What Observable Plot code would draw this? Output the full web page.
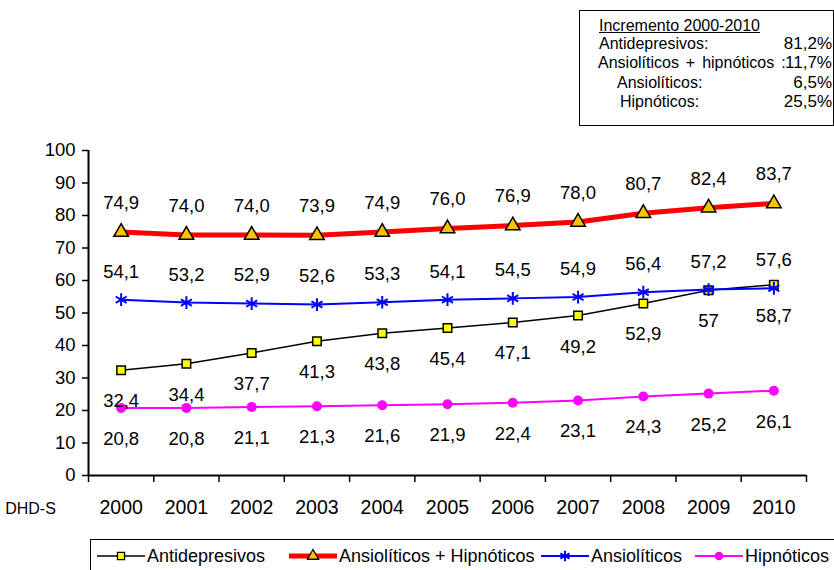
<!DOCTYPE html>
<html>
<head>
<meta charset="utf-8">
<script src="https://cdn.jsdelivr.net/npm/d3@7"></script>
<script src="https://cdn.jsdelivr.net/npm/@observablehq/plot@0.6"></script>
<style>
  html, body { margin: 0; padding: 0; background: #fff; overflow: hidden; }
  body { width: 834px; height: 570px; position: relative; font-family: Arial, "Liberation Sans", Helvetica, sans-serif; color: #000; }
  #chart { position: absolute; left: 0; top: 0; }
  #incr { position: absolute; left: 579px; top: 10px; width: 253px; height: 114px; border: 1px solid #000; font-size: 16px; }
  #incr .row { position: absolute; left: 0; right: 0; height: 19px; line-height: 19px; }
  #incr .lab { position: absolute; white-space: nowrap; }
  #incr .val { position: absolute; right: 1px; white-space: nowrap; }
  #legend { position: absolute; left: 90px; top: 539px; width: 760px; height: 40px; border: 1px solid #000; font-size: 18px; }
  #legend .item { position: absolute; top: 5px; height: 22px; line-height: 22px; white-space: nowrap; display: flex; align-items: center; }
  #legend svg { display: block; margin-right: 2px; }
</style>
</head>
<body>
<div id="chart"></div>
<div id="incr"></div>
<div id="legend"></div>
<script>
const years = [2000, 2001, 2002, 2003, 2004, 2005, 2006, 2007, 2008, 2009, 2010];
const antidepresivos = [32.4, 34.4, 37.7, 41.3, 43.8, 45.4, 47.1, 49.2, 52.9, 57, 58.7];
const ansioHipno = [74.9, 74.0, 74.0, 73.9, 74.9, 76.0, 76.9, 78.0, 80.7, 82.4, 83.7];
const ansioliticos = [54.1, 53.2, 52.9, 52.6, 53.3, 54.1, 54.5, 54.9, 56.4, 57.2, 57.6];
const hipnoticos = [20.8, 20.8, 21.1, 21.3, 21.6, 21.9, 22.4, 23.1, 24.3, 25.2, 26.1];
const yTicks = [0, 10, 20, 30, 40, 50, 60, 70, 80, 90, 100];
const legendNames = ["Antidepresivos", "Ansiolíticos + Hipnóticos", "Ansiolíticos", "Hipnóticos"];
const incrTitle = "Incremento 2000-2010";
const incrLabels = ["Antidepresivos:", "Ansiolíticos + hipnóticos :", "Ansiolíticos:", "Hipnóticos:"];
const incrValues = ["81,2%", "11,7%", "6,5%", "25,5%"];
const xAxisLabel = "DHD-S";

const fmtGeneral = v => String(v).replace(".", ",");
const fmtFixed = v => v.toFixed(1).replace(".", ",");
const mk = (vals, fmt) => years.map((year, i) => ({year, v: vals[i], label: fmt(vals[i])}));
const dAnti = mk(antidepresivos, fmtGeneral);
const dAH = mk(ansioHipno, fmtFixed);
const dAnsio = mk(ansioliticos, fmtFixed);
const dHip = mk(hipnoticos, fmtFixed);
const boundaries = [years[0] - 0.5, ...years.map(y => y + 0.5)];

const FS = 18;
const chart = Plot.plot({
  width: 834,
  height: 570,
  marginTop: 150,
  marginBottom: 95,
  marginLeft: 88,
  marginRight: 28,
  x: {domain: [boundaries[0], boundaries[boundaries.length - 1]]},
  y: {domain: [0, 100]},
  style: {fontFamily: 'Arial, "Liberation Sans", sans-serif', fontSize: FS + "px", color: "#000", background: "transparent"},
  marks: [
    Plot.axisY({ticks: yTicks, tickSize: 6, tickPadding: 7, tickFormat: d => String(d), label: null, fontSize: 18.5, strokeWidth: 1.5}),
    Plot.axisX({ticks: boundaries, tickSize: 7, tickFormat: () => "", label: null, strokeWidth: 1.5}),
    Plot.axisX({ticks: years, tickSize: 0, tickPadding: 25, tickFormat: d => String(d), label: null, fontSize: 19.5}),
    Plot.ruleX([boundaries[0]], {y1: 0, y2: 100, stroke: "#000", strokeWidth: 2}),
    Plot.ruleY([0], {stroke: "#000", strokeWidth: 2}),
    Plot.text([xAxisLabel], {frameAnchor: "bottom-left", dx: -58, dy: 38, fontSize: 16, textAnchor: "middle"}),

    Plot.line(dHip, {x: "year", y: "v", stroke: "#ff00ff", strokeWidth: 2}),
    Plot.dot(dHip, {x: "year", y: "v", r: 5, fill: "#ff00ff", stroke: "none", symbol: "circle"}),

    Plot.line(dAnti, {x: "year", y: "v", stroke: "#000", strokeWidth: 1.5}),
    Plot.dot(dAnti, {x: "year", y: "v", r: 4.8, fill: "#ffff00", stroke: "#000", strokeWidth: 1.5, symbol: "square"}),

    Plot.line(dAnsio, {x: "year", y: "v", stroke: "#0000ff", strokeWidth: 2}),
    Plot.dot(dAnsio, {x: "year", y: "v", r: 6, stroke: "#0000ff", strokeWidth: 2, symbol: "asterisk"}),

    Plot.line(dAH, {x: "year", y: "v", stroke: "#ff0000", strokeWidth: 5}),
    Plot.dot(dAH, {x: "year", y: "v", r: 5.4, fill: "#ffc000", stroke: "#000", strokeWidth: 1.5, symbol: "triangle"}),

    Plot.text(dAH, {x: "year", y: "v", text: "label", dy: -29, fontSize: 18.5}),
    Plot.text(dAnsio, {x: "year", y: "v", text: "label", dy: -28, fontSize: 18.5}),
    Plot.text(dAnti, {x: "year", y: "v", text: "label", dy: 31, fontSize: 18.5}),
    Plot.text(dHip, {x: "year", y: "v", text: "label", dy: 31, fontSize: 18.5})
  ]
});
document.getElementById("chart").appendChild(chart);

// Incremento box
const incr = document.getElementById("incr");
{
  const r = document.createElement("div");
  r.className = "row"; r.style.top = "5px";
  const l = document.createElement("span");
  l.className = "lab"; l.style.left = "19px"; l.style.textDecoration = "underline";
  l.textContent = incrTitle; r.appendChild(l); incr.appendChild(r);
}
const incrLeft = [19, 18, 37, 40];
incrLabels.forEach((lab, i) => {
  const r = document.createElement("div");
  r.className = "row"; r.style.top = (23 + i * 19.3) + "px";
  const l = document.createElement("span");
  l.className = "lab"; l.style.left = incrLeft[i] + "px"; l.textContent = lab;
  if (i === 1) { l.style.wordSpacing = "2.5px"; }
  const v = document.createElement("span");
  v.className = "val"; v.textContent = incrValues[i];
  v.style.fontSize = "17px";
  r.appendChild(l); r.appendChild(v); incr.appendChild(r);
});

// Legend
const legend = document.getElementById("legend");
const swatch = [
  {stroke: "#000", sw: 1.5, sym: "square", fill: "#ffff00", mstroke: "#000"},
  {stroke: "#ff0000", sw: 5, sym: "triangle", fill: "#ffc000", mstroke: "#000"},
  {stroke: "#0000ff", sw: 2, sym: "asterisk", fill: "none", mstroke: "#0000ff"},
  {stroke: "#ff00ff", sw: 2, sym: "circle", fill: "#ff00ff", mstroke: "none"}
];
const legLeft = [6, 198, 450, 604];
legendNames.forEach((name, i) => {
  const s = swatch[i];
  const item = document.createElement("div");
  item.className = "item"; item.style.left = legLeft[i] + "px";
  const ns = "http://www.w3.org/2000/svg";
  const svg = document.createElementNS(ns, "svg");
  svg.setAttribute("width", 48); svg.setAttribute("height", 16);
  const ln = document.createElementNS(ns, "line");
  ln.setAttribute("x1", 0); ln.setAttribute("x2", 48); ln.setAttribute("y1", 8); ln.setAttribute("y2", 8);
  ln.setAttribute("stroke", s.stroke); ln.setAttribute("stroke-width", s.sw);
  svg.appendChild(ln);
  const p = document.createElementNS(ns, "path");
  const symMap = {square: d3.symbolSquare, triangle: d3.symbolTriangle, asterisk: d3.symbolAsterisk, circle: d3.symbolCircle};
  const size = {square: 50, triangle: 55, asterisk: 80, circle: 60}[s.sym];
  p.setAttribute("d", d3.symbol(symMap[s.sym], size)());
  p.setAttribute("transform", "translate(24,8)");
  p.setAttribute("fill", s.fill); p.setAttribute("stroke", s.mstroke);
  p.setAttribute("stroke-width", s.sym === "asterisk" ? 2 : 1.3);
  svg.appendChild(p);
  const t = document.createElement("span");
  t.textContent = name;
  item.appendChild(svg); item.appendChild(t);
  legend.appendChild(item);
});
</script>
</body>
</html>
